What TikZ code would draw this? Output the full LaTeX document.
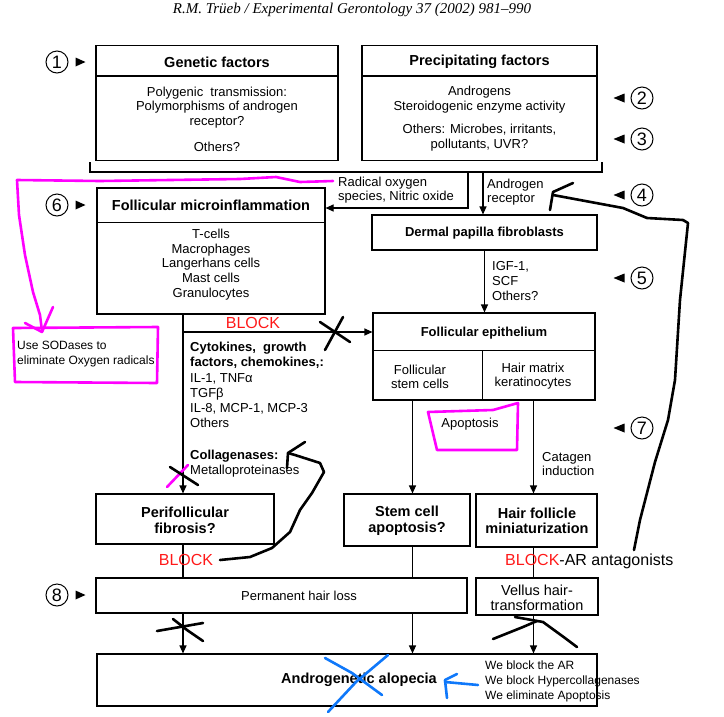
\documentclass[tikz,border=0pt]{standalone}
\usepackage{fontspec}
\setmainfont{Liberation Sans}
\newfontfamily\journalfont{Liberation Serif}
\usetikzlibrary{arrows.meta}

\definecolor{blockred}{RGB}{255,25,25}
\definecolor{markpink}{RGB}{255,0,255}
\definecolor{penblue}{RGB}{15,120,250}

\begin{document}
\begin{tikzpicture}[x=1pt,y=-1pt,
	box/.style={draw,line width=1.1pt,inner sep=0pt},
	body/.style={font=\fontsize{13}{14.6}\selectfont,align=center,inner sep=0pt},
	title/.style={font=\fontsize{14.5}{15.5}\selectfont\bfseries,align=center,inner sep=0pt},
	subtitle/.style={font=\fontsize{13}{14}\selectfont\bfseries,inner sep=0pt},
	note/.style={font=\fontsize{13}{14.6}\selectfont,align=left,anchor=west,inner sep=0pt},
	blocktext/.style={font=\fontsize{16}{16}\selectfont,text=blockred,inner sep=0pt},
	arr/.style={line width=1.1pt,-{Triangle[length=8pt,width=7pt]}},
	link/.style={line width=1.1pt},
	pen/.style={line width=2.6pt,line cap=round,line join=round},
	num/.style={circle,draw,line width=1pt,minimum size=22pt,inner sep=0pt,font=\fontsize{18}{18}\selectfont}]
	\useasboundingbox (0,0) rectangle (724,716);

	\node[font=\journalfont\itshape\fontsize{15}{15}\selectfont] (journal) at (352,10)
		{R.M. Trüeb / Experimental Gerontology 37 (2002) 981–990};

	% boxes
	\node[box,minimum width=242pt,minimum height=115pt] (gen) at (217,103) {};
	\node[box,minimum width=235pt,minimum height=115pt] (prec) at (479.5,103) {};
	\node[box,minimum width=228pt,minimum height=126pt] (infl) at (211,251) {};
	\node[box,minimum width=225pt,minimum height=35pt] (derm) at (484.5,232.5) {};
	\node[box,minimum width=222pt,minimum height=87pt] (epi) at (484,356.5) {};
	\node[box,minimum width=178pt,minimum height=50pt] (fib) at (185,519) {};
	\node[box,minimum width=126pt,minimum height=52pt] (stem) at (407,520) {};
	\node[box,minimum width=121pt,minimum height=53pt] (mini) at (536.5,520.5) {};
	\node[box,minimum width=371pt,minimum height=35pt] (perm) at (281.5,595.5) {};
	\node[box,minimum width=122pt,minimum height=37pt] (vell) at (537,596.5) {};
	\node[box,minimum width=500pt,minimum height=52pt] (aga) at (347,680) {};

	\draw[link] ([yshift=-31pt]gen.north west) -- ([yshift=-31pt]gen.north east);
	\draw[link] ([yshift=-31pt]prec.north west) -- ([yshift=-31pt]prec.north east);
	\draw[link] ([yshift=-35pt]infl.north west) -- ([yshift=-35pt]infl.north east);
	\draw[link] ([yshift=-38pt]epi.north west) -- ([yshift=-38pt]epi.north east);
	\draw[link] ([xshift=-1.5pt,yshift=-38pt]epi.north) -- ([xshift=-1.5pt]epi.south);

	% box texts
	\node[title] (genT) at (217,62) {Genetic factors};
	\node[body] (genB) at (217,119) {Polygenic\ \ transmission:\\Polymorphisms of androgen\\receptor?\\[11.5pt]Others?};
	\node[title] (precT) at (479.5,61.5) {Precipitating factors};
	\node[body] (precB) at (479.5,118.5) {Androgens\\Steroidogenic enzyme activity\\[8.5pt]Others: Microbes, irritants,\\pollutants, UVR?};
	\node[title] (inflT) at (211,205) {Follicular microinflammation};
	\node[body] (inflB) at (211,264.5) {T-cells\\Macrophages\\Langerhans cells\\Mast cells\\Granulocytes};
	\node[subtitle] (dermT) at (484.5,233) {Dermal papilla fibroblasts};
	\node[subtitle] (epiT) at (484,333) {Follicular epithelium};
	\node[body] (epiL) at (420,377) {Follicular\\stem cells};
	\node[body] (epiR) at (533,376) {Hair matrix\\keratinocytes};
	\node[title] (fibT) at (185,520.5) {Perifollicular\\fibrosis?};
	\node[title] (stemT) at (407,520.5) {Stem cell\\apoptosis?};
	\node[title] (miniT) at (537,521) {Hair follicle\\miniaturization};
	\node[body] (permT) at (299,596) {Permanent hair loss};
	\node[body,font=\fontsize{14.5}{14.5}\selectfont] (vellT) at (537,598) {Vellus hair-\\transformation};
	\node[title] (agaT) at (359,680) {Androgenetic alopecia};

	% numbered markers
	\foreach \n/\y in {1/62,6/205,8/595} {
		\node[num] (c\n) at (57,\y) {\n};
		\fill ([xshift=7pt,yshift=4.5pt]c\n.east) -- ++(10,4.5) -- ++(-10,4.5) -- cycle;
	}
	\foreach \n/\y in {2/98,3/139,4/195,5/278,7/428} {
		\node[num] (c\n) at (642,\y) {\n};
		\fill ([xshift=-6pt,yshift=4.5pt]c\n.west) -- ++(-11,4.5) -- ++(11,4.5) -- cycle;
	}

	% connectors
	\coordinate (colA) at (183,0);
	\coordinate (colB) at (412.5,0);
	\coordinate (colC) at (533.5,0);
	\coordinate (brL) at (90,162);
	\coordinate (brR) at (602,162);
	\coordinate (ros) at (468,172);
	\coordinate (ar) at (483,172);
	\draw[link] (brL) -- ++(0,10) -| (brR);
	\draw[arr] (ros) |- ([yshift=43pt]infl.east);
	\draw[arr] (ar) -- (ar |- derm.north);
	\draw[arr] (derm.south) -- (derm.south |- epi.north);
	\draw[arr] (infl.south -| colA) -- (fib.north -| colA);
	\coordinate (fork) at (183,332);
	\draw[arr] (fork) -- (fork -| epi.west);
	\draw[arr] (epi.south -| colB) -- (stem.north -| colB);
	\draw[arr] (epi.south -| colC) -- (mini.north -| colC);
	\draw[link] (mini.south -| colC) -- (vell.north -| colC);
	\draw[link] (fib.south -| colA) -- (perm.north -| colA);
	\draw[link] (stem.south -| colB) -- (perm.north -| colB);
	\draw[arr] (perm.south -| colA) -- (aga.north -| colA);
	\draw[arr] (perm.south -| colB) -- (aga.north -| colB);
	\draw[arr] (vell.south -| colC) -- (aga.north -| colC);

	% labels on the connectors
	\node[note] (rosT) at (338,190) {Radical oxygen\\species, Nitric oxide};
	\node[note] (arT) at (487,192) {Androgen\\receptor};
	\node[note] (igfT) at (492,281) {IGF-1,\\SCF\\Others?};
	\node[note] (catT) at (542,464) {Catagen\\induction};
	\node[note,font=\fontsize{13}{15.2}\selectfont] (cytoT) at (190,385)
		{\textbf{Cytokines,\ \ growth}\\\textbf{factors, chemokines,:}\\IL-1, TNFα\\TGFβ\\IL-8, MCP-1, MCP-3\\Others};
	\node[note] (collT) at (190,463.5) {\textbf{Collagenases:}\\Metalloproteinases};
	\node[body] (apoT) at (470,424) {Apoptosis};
	\node[note,font=\fontsize{12}{15}\selectfont] (weT) at (485,681)
		{We block the AR\\We block Hypercollagenases\\We eliminate Apoptosis};

	% annotations
	\node[blocktext] (block1) at (253,323) {BLOCK};
	\node[blocktext] (block2) at (186,560) {BLOCK};
	\node[blocktext,anchor=west] (block3) at (505,561) {BLOCK\textcolor{black}{-AR antagonists}};

	\node[note,font=\fontsize{12}{15}\selectfont] (sodT) at (17,354.5) {Use SODases to\\eliminate Oxygen radicals};
	\draw[pen,markpink] (13,328) -- (158,327) -- (157,383) -- (15,382) -- cycle;
	\draw[pen,markpink] (333,181) -- (300,182) -- (276,177) -- (240,179) -- (100,181) -- (17,180)
		-- (19,215) -- (25,255) -- (33,292) -- (40,315) -- (42,331);
	\draw[pen,markpink] (25,323) -- (42,332) -- (53,307);
	\draw[pen,markpink] (428,412) -- (493,410) -- (518,403) -- (517,450) -- (437,450) -- cycle;
	\draw[pen,markpink] (167,487) -- (188,465);

	\draw[pen] (320,322) -- (350,342);
	\draw[pen] (343,317) -- (325,350);
	\draw[pen] (170,467) -- (198,485);
	\draw[pen] (220,560) -- (250,557) -- (272,548) -- (290,532) -- (300,510) -- (312,493) -- (324,472) -- (320,463) -- (295,455) -- (288,453);
	\draw[pen] (305,442) -- (288,453) -- (287,468);
	\draw[pen] (634,550) -- (640,520) -- (655,462) -- (668,420) -- (675,380) -- (680,300) -- (688,223)
		-- (683,220) -- (647,218) -- (623,208) -- (553,195);
	\draw[pen] (573,183) -- (553,192) -- (550,210);
	\draw[pen] (157,631) -- (180,627) -- (203,623);
	\draw[pen] (173,619) -- (187,630) -- (203,641);
	\draw[pen] (493,639) -- (523,627) -- (537,621);
	\draw[pen] (515,617) -- (543,622) -- (565,638) -- (577,647);

	\draw[pen,penblue] (325,658) -- (352,673) -- (382,695);
	\draw[pen,penblue] (388,655) -- (356,682) -- (328,712);
	\draw[pen,penblue] (478,685) -- (445,682);
	\draw[pen,penblue] (457,674) -- (445,680) -- (447,698);
\end{tikzpicture}
\end{document}
